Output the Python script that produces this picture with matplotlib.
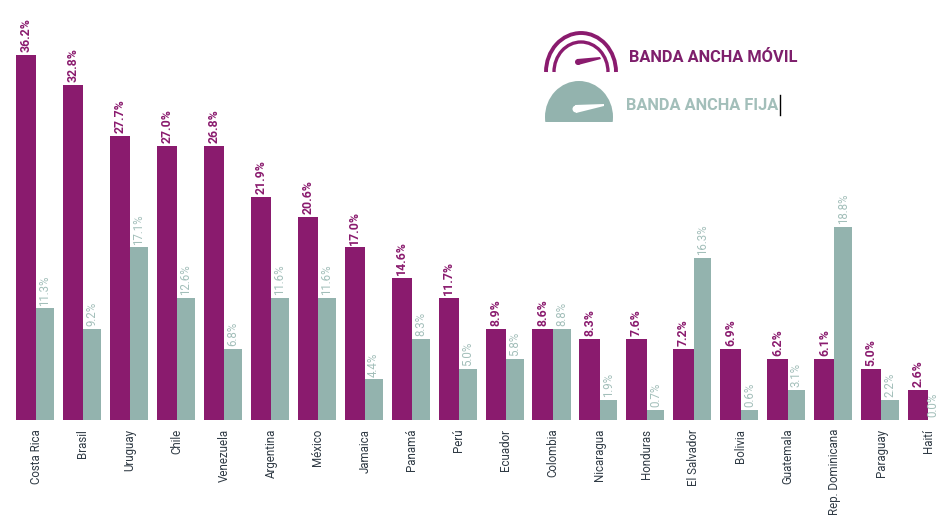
import numpy as np
import matplotlib
matplotlib.use('Agg')
import matplotlib.pyplot as plt
from matplotlib.patches import Arc, Ellipse, Polygon, Circle, Rectangle

plt.rcParams['font.family'] = ['Roboto', 'DejaVu Sans']

paises = ['Costa Rica', 'Brasil', 'Uruguay', 'Chile', 'Venezuela', 'Argentina', 'México',
          'Jamaica', 'Panamá', 'Perú', 'Ecuador', 'Colombia', 'Nicaragua', 'Honduras',
          'El Salvador', 'Bolivia', 'Guatemala', 'Rep. Dominicana', 'Paraguay', 'Haití']

# valores impresos sobre cada barra
movil = [36.2, 32.8, 27.7, 27.0, 26.8, 21.9, 20.6, 17.0, 14.6, 11.7,
         8.9, 8.6, 8.3, 7.6, 7.2, 6.9, 6.2, 6.1, 5.0, 2.6]
fija = [11.3, 9.2, 17.1, 12.6, 6.8, 11.6, 11.6, 4.4, 8.3, 5.0,
        5.8, 8.8, 1.9, 0.7, 16.3, 0.6, 3.1, 18.8, 2.2, 0.0]

# altura que tiene cada barra en el original (no siempre coincide con la etiqueta)
movil_alto = [36, 33, 28, 27, 27, 22, 20, 17, 14, 12, 9, 9, 8, 8, 7, 7, 6, 6, 5, 3]
fija_alto = [11, 9, 17, 12, 7, 12, 12, 4, 8, 5, 6, 9, 2, 1, 16, 1, 3, 19, 2, 0]

COLOR_MOVIL = '#8a1b6e'
COLOR_FIJA = '#93b3ae'
COLOR_TEXTO_FIJA = '#a3bfba'
W, H = 939, 517

fig = plt.figure(figsize=(W / 100, H / 100), dpi=100, facecolor='white')
ax = fig.add_axes([0, 0, 1, 1])

x = np.arange(len(paises))
ax.bar(x - 0.215, movil_alto, width=0.43, color=COLOR_MOVIL)
ax.bar(x + 0.19, fija_alto, width=0.38, color=COLOR_FIJA)

# escala: 46.97 px por país, 10.15 px por unidad, base en y=420
ax.set_xlim(-36 / 46.97, (W - 36) / 46.97)
ax.set_ylim(-(H - 420) / 10.15, 420 / 10.15)
for s in ax.spines.values():
    s.set_visible(False)
ax.set_yticks([])
ax.set_xticks(x)
ax.set_xticklabels(paises, rotation=90, fontsize=8.3, color='#2f3a44', va='top', ha='center')
ax.tick_params(axis='x', length=0, pad=-63.5)
ax.xaxis.set_ticks_position('bottom')

for i in x:
    ax.annotate(f"{movil[i]:.1f}%", (i - 0.215, movil_alto[i]), xytext=(0, 2), textcoords='offset points',
                rotation=90, ha='center', va='bottom', fontsize=8.8, weight='bold', color=COLOR_MOVIL)
    # la última etiqueta se acerca un poco para que no la corte el borde
    dx = -3 if i == len(paises) - 1 else 0
    ax.annotate(f"{fija[i]:.1f}%", (i + 0.19, fija_alto[i]), xytext=(dx, 2), textcoords='offset points',
                rotation=90, ha='center', va='bottom', fontsize=8.3, color=COLOR_TEXTO_FIJA,
                annotation_clip=False)

# leyenda con los dos velocímetros, en coordenadas de pixel
ov = fig.add_axes([0, 0, 1, 1])
ov.set_xlim(0, W)
ov.set_ylim(H, 0)
ov.axis('off')

ov.add_patch(Arc((581, 72), 70, 78, theta1=180, theta2=360, color=COLOR_MOVIL, lw=2.8))
ov.add_patch(Arc((581, 72), 54, 60, theta1=180, theta2=360, color=COLOR_MOVIL, lw=2.4))
ov.add_patch(Polygon([(577, 59), (600, 57), (601, 59), (578, 65)], color=COLOR_MOVIL, lw=0))
ov.add_patch(Circle((578, 62), 3, color=COLOR_MOVIL, lw=0))

domo = Ellipse((579, 117), 68, 72, color=COLOR_FIJA, lw=0)
ov.add_patch(domo)
domo.set_clip_path(Rectangle((540, 75), 80, 47, transform=ov.transData))
ov.add_patch(Polygon([(575, 105), (604, 104), (604, 106), (576, 113)], color='white', lw=0))
ov.add_patch(Circle((576, 109), 3.5, color='white', lw=0))

ov.text(629, 57, 'BANDA ANCHA MÓVIL', fontsize=11.75, weight='bold', color='#7e1f6c', va='center', ha='left')
ov.text(626, 105, 'BANDA ANCHA FIJA', fontsize=11.75, weight='bold', color=COLOR_TEXTO_FIJA, va='center', ha='left')
ov.plot([780, 780], [95, 115], color='black', lw=1)

fig.savefig('out.png', dpi=100)
